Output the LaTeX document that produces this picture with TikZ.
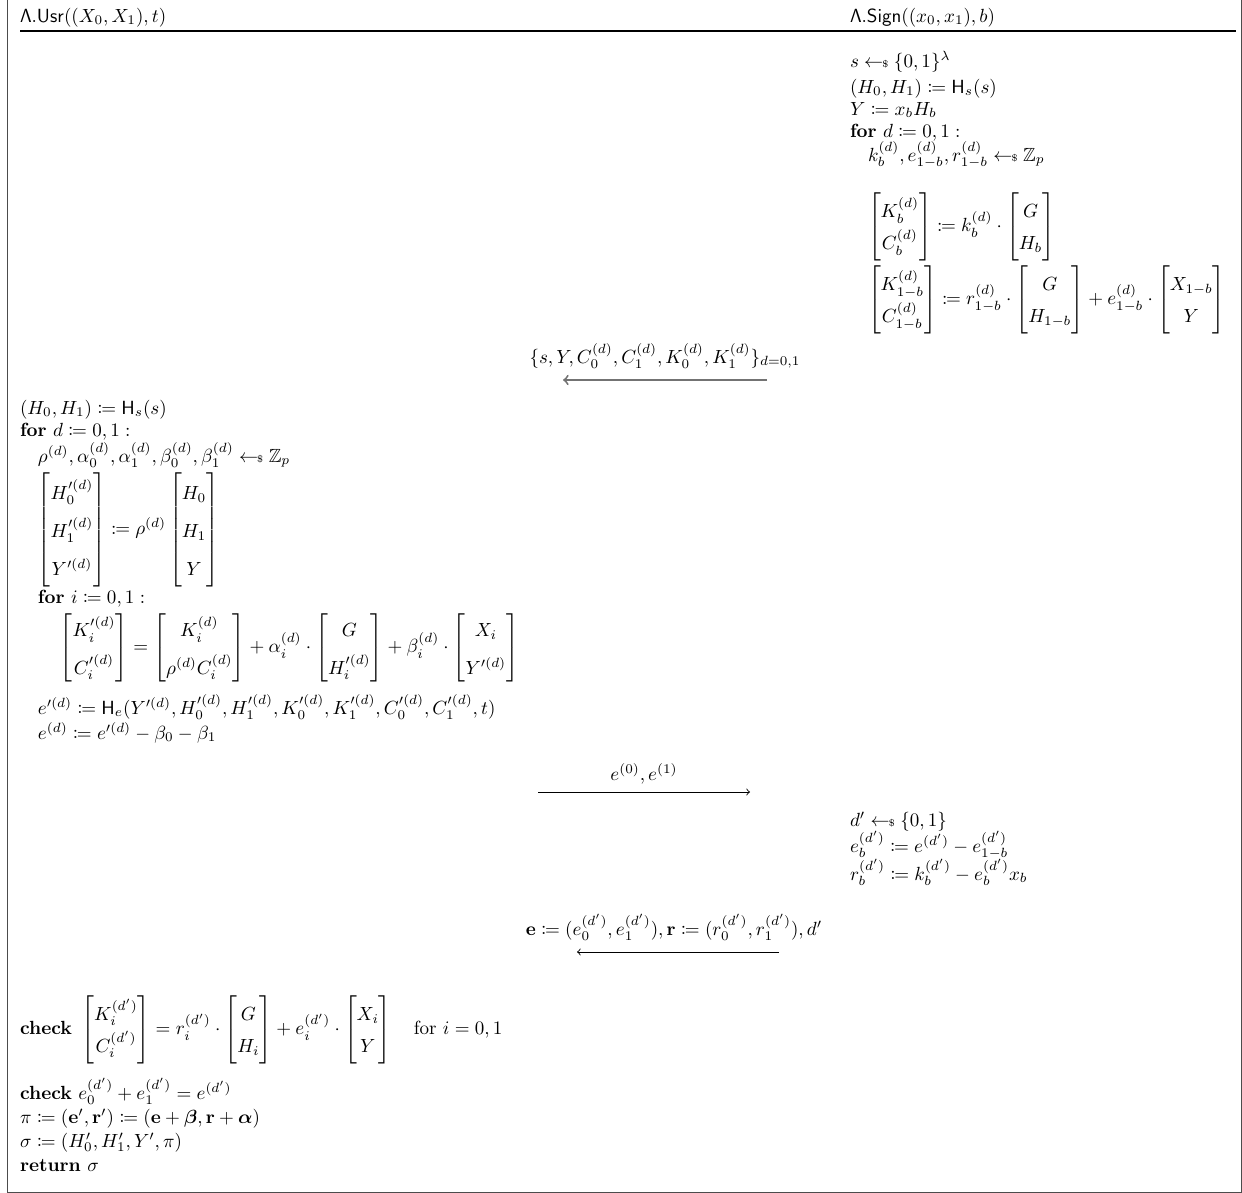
\documentclass[tikz,border=0pt]{standalone}
\usepackage{amsmath,amssymb,mathtools,bm}
\newcommand{\smp}{\mathrel{\gets\!\!{\scriptscriptstyle\$}}}
\newcommand{\kw}[1]{\mathbf{#1}}
\tikzset{
  x=0.525pt, y=-0.525pt,
  ln/.style={anchor=base west, inner sep=0pt, outer sep=0pt},
  mat/.style={anchor=west, inner sep=0pt, outer sep=0pt},
  lbl/.style={anchor=base, inner sep=0pt, outer sep=0pt},
  msg/.style={->, line width=0.45pt},
  msggray/.style={->, line width=1pt, draw=black!55},
  frame/.style={draw=black!70, line width=0.45pt},
}
\begin{document}
\begin{tikzpicture}
\useasboundingbox (0,0) rectangle (1242,1193);
% frame
\coordinate (ftl) at (7,0);
\coordinate (fbl) at (7,1192);
\coordinate (fbr) at (1241,1192);
\coordinate (ftr) at (1241,0);
\draw[frame] (ftl) -- (fbl) -- (fbr) -- (ftr);
% header
\node[ln] (hu) at (20,22) {$\mathsf{\Lambda.Usr}((X_0,X_1),t)$};
\node[ln] (hs) at (850,22) {$\mathsf{\Lambda.Sign}((x_0,x_1),b)$};
\coordinate (rl) at (20,31);
\coordinate (rr) at (1236,31);
\draw[line width=0.6pt] (rl) -- (rr);
% signer part 1
\node[ln] (s1) at (850,67) {$s \smp \{0,1\}^{\lambda}$};
\node[ln] (s2) at (850,93) {$(H_0,H_1) \coloneqq \mathsf{H}_s(s)$};
\node[ln] (s3) at (850,115) {$Y \coloneqq x_b H_b$};
\node[ln] (s4) at (850,137) {$\kw{for}\ d \coloneqq 0,1:$};
\node[ln] (s5) at (868,161) {$k_b^{(d)}, e_{1-b}^{(d)}, r_{1-b}^{(d)} \smp \mathbb{Z}_p$};
\node[mat] (s6) at (868,227) {\renewcommand{\arraystretch}{1.4}$\begin{bmatrix} K_b^{(d)}\\ C_b^{(d)}\end{bmatrix} \coloneqq k_b^{(d)}\cdot\begin{bmatrix} G\\ H_b\end{bmatrix}$};
\node[mat] (s7) at (868,300) {\renewcommand{\arraystretch}{1.4}$\begin{bmatrix} K_{1-b}^{(d)}\\ C_{1-b}^{(d)}\end{bmatrix} \coloneqq r_{1-b}^{(d)}\cdot\begin{bmatrix} G\\ H_{1-b}\end{bmatrix} + e_{1-b}^{(d)}\cdot\begin{bmatrix} X_{1-b}\\ Y\end{bmatrix}$};
% message 1
\node[lbl] (m1) at (665,363) {$\{s,Y,C_0^{(d)},C_1^{(d)},K_0^{(d)},K_1^{(d)}\}_{d=0,1}$};
\coordinate (m1a) at (767,380);
\coordinate (m1b) at (563,380);
\draw[msggray] (m1a) -- (m1b);
% user part
\node[ln] (u1) at (20,414) {$(H_0,H_1) \coloneqq \mathsf{H}_s(s)$};
\node[ln] (u2) at (20,436) {$\kw{for}\ d \coloneqq 0,1:$};
\node[ln] (u3) at (38,462) {$\rho^{(d)},\alpha_0^{(d)},\alpha_1^{(d)},\beta_0^{(d)},\beta_1^{(d)} \smp \mathbb{Z}_p$};
\node[mat] (u4) at (38,530) {\renewcommand{\arraystretch}{1.66}$\begin{bmatrix} H'^{(d)}_0\\ H'^{(d)}_1\\ Y'^{(d)}\end{bmatrix} \coloneqq \rho^{(d)}\begin{bmatrix} H_0\\ H_1\\ Y\end{bmatrix}$};
\node[ln] (u5) at (38,603) {$\kw{for}\ i \coloneqq 0,1:$};
\node[mat] (u6) at (60,648) {\renewcommand{\arraystretch}{1.65}$\begin{bmatrix} K'^{(d)}_i\\ C'^{(d)}_i\end{bmatrix} = \begin{bmatrix} K_i^{(d)}\\ \rho^{(d)}C_i^{(d)}\end{bmatrix} + \alpha_i^{(d)}\cdot\begin{bmatrix} G\\ H'^{(d)}_i\end{bmatrix} + \beta_i^{(d)}\cdot\begin{bmatrix} X_i\\ Y'^{(d)}\end{bmatrix}$};
\node[ln] (u7) at (38,714) {$e'^{(d)} \coloneqq \mathsf{H}_e(Y'^{(d)},H'^{(d)}_0,H'^{(d)}_1,K'^{(d)}_0,K'^{(d)}_1,C'^{(d)}_0,C'^{(d)}_1,t)$};
\node[ln] (u8) at (38,739) {$e^{(d)} \coloneqq e'^{(d)} - \beta_0 - \beta_1$};
% message 2
\node[lbl] (m2) at (644,780) {$e^{(0)},e^{(1)}$};
\coordinate (m2a) at (538,792);
\coordinate (m2b) at (750,792);
\draw[msg] (m2a) -- (m2b);
% signer part 2
\node[ln] (t1) at (850,826) {$d' \smp \{0,1\}$};
\node[ln] (t2) at (850,852) {$e_b^{(d')} \coloneqq e^{(d')} - e_{1-b}^{(d')}$};
\node[ln] (t3) at (850,880) {$r_b^{(d')} \coloneqq k_b^{(d')} - e_b^{(d')}x_b$};
% message 3
\node[lbl] (m3) at (674,935) {$\mathbf{e} \coloneqq (e_0^{(d')},e_1^{(d')}), \mathbf{r} \coloneqq (r_0^{(d')},r_1^{(d')}), d'$};
\coordinate (m3a) at (779,952);
\coordinate (m3b) at (577,952);
\draw[msg] (m3a) -- (m3b);
% user part 2
\node[mat] (v1) at (20,1030) {\renewcommand{\arraystretch}{1.4}$\kw{check}\ \begin{bmatrix} K_i^{(d')}\\ C_i^{(d')}\end{bmatrix} = r_i^{(d')}\cdot\begin{bmatrix} G\\ H_i\end{bmatrix} + e_i^{(d')}\cdot\begin{bmatrix} X_i\\ Y\end{bmatrix}\quad \text{for } i=0,1$};
\node[ln] (v2) at (20,1099) {$\kw{check}\ e_0^{(d')} + e_1^{(d')} = e^{(d')}$};
\node[ln] (v3) at (20,1123) {$\pi \coloneqq (\mathbf{e}',\mathbf{r}') \coloneqq (\mathbf{e}+\bm{\beta},\mathbf{r}+\bm{\alpha})$};
\node[ln] (v4) at (20,1147) {$\sigma \coloneqq (H_0',H_1',Y',\pi)$};
\node[ln] (v5) at (20,1171) {$\kw{return}\ \sigma$};
\end{tikzpicture}
\end{document}
